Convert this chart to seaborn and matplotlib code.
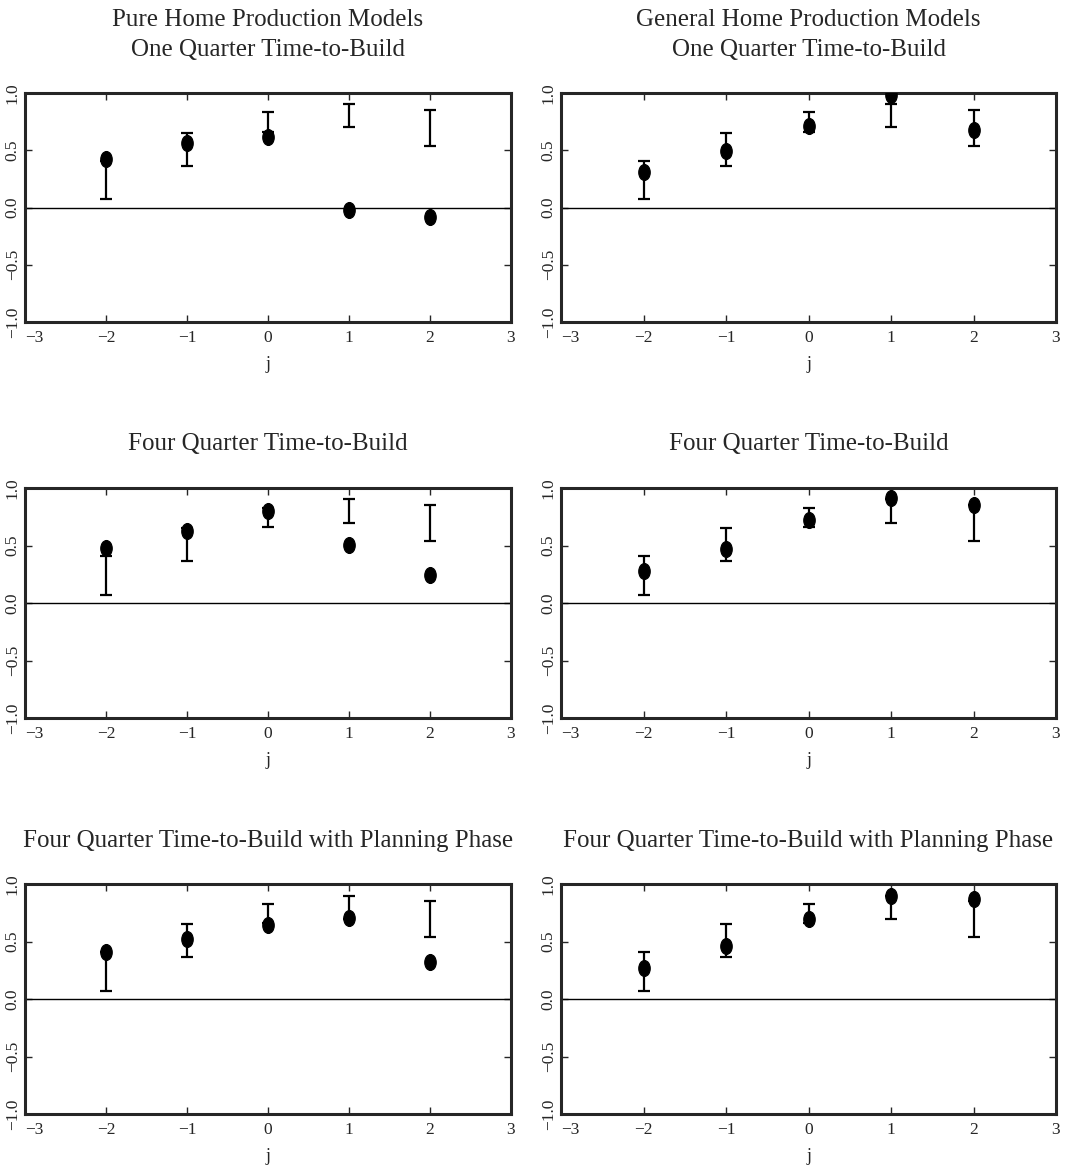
import numpy as np
import pandas as pd
import matplotlib
matplotlib.use("Agg")
import matplotlib.pyplot as plt
from matplotlib.path import Path
import seaborn as sns

# lead/lag j
j = [-2, -1, 0, 1, 2]

# data intervals (same in every panel)
ci_low = [0.07, 0.365, 0.66, 0.70, 0.54]
ci_high = [0.41, 0.65, 0.83, 0.90, 0.85]

# model values, pure home production (left column)
pure_one = [0.42, 0.56, 0.62, -0.02, -0.08]
pure_four = [0.475, 0.625, 0.80, 0.505, 0.245]
pure_plan = [0.41, 0.525, 0.64, 0.705, 0.325]

# model values, general home production (right column)
gen_one = [0.31, 0.495, 0.715, 0.98, 0.675]
gen_four = [0.275, 0.47, 0.72, 0.91, 0.855]
gen_plan = [0.27, 0.46, 0.70, 0.90, 0.87]

titles = [
    "Pure Home Production Models\nOne Quarter Time-to-Build",
    "General Home Production Models\nOne Quarter Time-to-Build",
    "Four Quarter Time-to-Build",
    "Four Quarter Time-to-Build",
    "Four Quarter Time-to-Build with Planning Phase",
    "Four Quarter Time-to-Build with Planning Phase",
]
values = [pure_one, gen_one, pure_four, gen_four, pure_plan, gen_plan]

xticks = [-3, -2, -1, 0, 1, 2, 3]
xticklabels = ["\u22123", "\u22122", "\u22121", "0", "1", "2", "3"]
yticks = [-1.0, -0.5, 0.0, 0.5, 1.0]
yticklabels = ["\u22121.0", "\u22120.5", "0.0", "0.5", "1.0"]

sns.set_style("ticks")
plt.rcParams["font.family"] = ["Liberation Serif", "DejaVu Serif"]

W, H = 1071, 1165
fig = plt.figure(figsize=(W / 100, H / 100), dpi=100)

cols = [(25, 511), (561, 1056)]
rows = [(93, 322), (488, 718), (884, 1114)]

# slightly tall ellipse marker
circ = Path.unit_circle()
ellipse = Path(circ.vertices * np.array([0.72, 1.0]), circ.codes)

k = 0
for (top, bot) in rows:
    for (left, right) in cols:
        ax = fig.add_axes([left / W, 1 - bot / H, (right - left) / W, (bot - top) / H])
        df = pd.DataFrame({"j": j, "value": values[k]})

        ax.axhline(0, color="black", lw=1.0, zorder=1)
        mid = (np.array(ci_low) + np.array(ci_high)) / 2
        half = (np.array(ci_high) - np.array(ci_low)) / 2
        ax.errorbar(j, mid, yerr=half, fmt="none", ecolor="black",
                    elinewidth=1.6, capsize=4, capthick=1.6, zorder=2)
        sns.scatterplot(data=df, x="j", y="value", ax=ax, marker=ellipse,
                        s=130, color="black", edgecolor="black", zorder=3)

        ax.set_xlim(-3, 3)
        ax.set_ylim(-1, 1)
        ax.set_xticks(xticks)
        ax.set_yticks(yticks)
        ax.set_yticklabels(yticklabels)
        ax.set_xticklabels(xticklabels)
        ax.tick_params(direction="in", top=True, right=True, length=5,
                       width=1.0, labelsize=12.5, pad=6)
        for lab in ax.get_yticklabels():
            lab.set_rotation(90)
            lab.set_va("center")
        ax.get_xticklabels()[0].set_ha("left")
        ax.tick_params(axis="y", pad=3)
        for sp in ax.spines.values():
            sp.set_linewidth(2.2)
        ax.set_xlabel("j", fontsize=13, labelpad=7)
        ax.set_ylabel("")
        ax.set_title(titles[k], fontsize=18, pad=27, linespacing=1.45)
        k += 1

fig.savefig("out.png", dpi=100)
